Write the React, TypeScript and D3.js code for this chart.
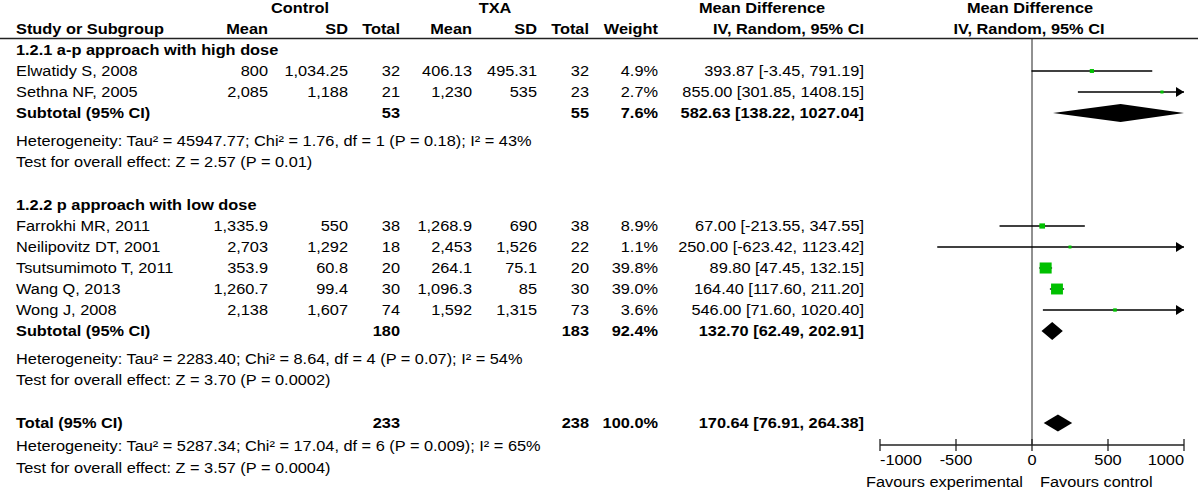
import React from 'react';
import * as d3 from 'd3';

// study level data
const studyNames = [
  'Elwatidy S, 2008',
  'Sethna NF, 2005',
  'Farrokhi MR, 2011',
  'Neilipovitz DT, 2001',
  'Tsutsumimoto T, 2011',
  'Wang Q, 2013',
  'Wong J, 2008',
];
const controlMean = ['800', '2,085', '1,335.9', '2,703', '353.9', '1,260.7', '2,138'];
const controlSD = ['1,034.25', '1,188', '550', '1,292', '60.8', '99.4', '1,607'];
const controlTotal = [32, 21, 38, 18, 20, 30, 74];
const txaMean = ['406.13', '1,230', '1,268.9', '2,453', '264.1', '1,096.3', '1,592'];
const txaSD = ['495.31', '535', '690', '1,526', '75.1', '85', '1,315'];
const txaTotal = [32, 23, 38, 22, 20, 30, 73];
const weights = [4.9, 2.7, 8.9, 1.1, 39.8, 39.0, 3.6];
const md = [393.87, 855.0, 67.0, 250.0, 89.8, 164.4, 546.0];
const ciLow = [-3.45, 301.85, -213.55, -623.42, 47.45, 117.6, 71.6];
const ciHigh = [791.19, 1408.15, 347.55, 1123.42, 132.15, 211.2, 1020.4];

// subgroups
const groupTitles = ['1.2.1 a-p approach with high dose', '1.2.2 p approach with low dose'];
const groupStudies = [[0, 1], [2, 3, 4, 5, 6]];
const subControlN = [53, 180];
const subTxaN = [55, 183];
const subWeight = [7.6, 92.4];
const subMd = [582.63, 132.7];
const subLow = [138.22, 62.49];
const subHigh = [1027.04, 202.91];
const subHet = [
  'Heterogeneity: Tau\u00b2 = 45947.77; Chi\u00b2 = 1.76, df = 1 (P = 0.18); I\u00b2 = 43%',
  'Heterogeneity: Tau\u00b2 = 2283.40; Chi\u00b2 = 8.64, df = 4 (P = 0.07); I\u00b2 = 54%',
];
const subTest = ['Test for overall effect: Z = 2.57 (P = 0.01)', 'Test for overall effect: Z = 3.70 (P = 0.0002)'];

// overall
const totalControlN = 233;
const totalTxaN = 238;
const totalWeight = 100.0;
const totalMd = 170.64;
const totalLow = 76.91;
const totalHigh = 264.38;
const totalHet = 'Heterogeneity: Tau\u00b2 = 5287.34; Chi\u00b2 = 17.04, df = 6 (P = 0.009); I\u00b2 = 65%';
const totalTest = 'Test for overall effect: Z = 3.57 (P = 0.0004)';

const axisTicks = [-1000, -500, 0, 500, 1000];

const W = 1200;
const H = 491;
const SX = 1.09;
const GREEN = '#00c000';
const LINE = '#222';

const loc = d3.formatLocale({ decimal: '.', thousands: ',', grouping: [3], currency: ['', ''], minus: '-' });
const f2 = loc.format('.2f');
const f1 = loc.format('.1f');
const ciText = (m: number, l: number, h: number) => `${f2(m)} [${f2(l)}, ${f2(h)}]`;

function T({ x, y, anchor = 'start', bold = false, children }: any) {
  return (
    <text
      transform={`translate(${x},${y + 5}) scale(${SX},1)`}
      textAnchor={anchor}
      fontWeight={bold ? 'bold' : 'normal'}
    >
      {children}
    </text>
  );
}

const col = { name: 16, cMean: 268, cSD: 348, cN: 400, tMean: 472, tSD: 537, tN: 589, w: 658, ci: 864 };

export default function App() {
  const x = d3.scaleLinear().domain([-1000, 1000]).range([880, 1184]);
  const clampX = (v: number) => x(Math.max(-1000, Math.min(1000, v)));
  const sq = d3.scaleSqrt().domain([0, 39.8]).range([0, 12]);

  const rows: any[] = [];
  let y = 50;
  groupTitles.forEach((title, g) => {
    rows.push({ kind: 'title', y, text: title });
    y += 21;
    groupStudies[g].forEach((i) => {
      rows.push({ kind: 'study', y, i });
      y += 21;
    });
    rows.push({ kind: 'sub', y, g });
    y += 28;
    rows.push({ kind: 'note', y, text: subHet[g] });
    y += 21;
    rows.push({ kind: 'note', y, text: subTest[g] });
    y += 43;
  });
  rows.push({ kind: 'total', y });
  y += 23;
  rows.push({ kind: 'note', y, text: totalHet });
  y += 22;
  rows.push({ kind: 'note', y, text: totalTest });

  const axisY = 445;

  const diamond = (m: number, l: number, h: number, cy: number, hh: number) => {
    const pts = [
      [clampX(l), cy],
      [x(m), cy - hh],
      [clampX(h), cy],
      [x(m), cy + hh],
    ];
    return <polygon points={pts.map((p) => p.join(',')).join(' ')} fill="#000" />;
  };

  const whisker = (i: number, cy: number) => {
    const x1 = clampX(ciLow[i]);
    const x2 = clampX(ciHigh[i]);
    const s = Math.max(3, sq(weights[i]));
    const hs = Math.max(3, sq(weights[i]) * 0.92);
    return (
      <g key={'w' + i}>
        <line x1={x1} x2={x2} y1={cy} y2={cy} stroke="#000" strokeWidth={1.3} />
        {ciHigh[i] > 1000 && (
          <polygon points={`${x(1000) - 8},${cy - 5} ${x(1000)},${cy} ${x(1000) - 8},${cy + 5}`} fill="#000" />
        )}
        {ciLow[i] < -1000 && (
          <polygon points={`${x(-1000) + 8},${cy - 5} ${x(-1000)},${cy} ${x(-1000) + 8},${cy + 5}`} fill="#000" />
        )}
        <rect x={x(md[i]) - s / 2} y={cy - hs / 2} width={s} height={hs} fill={GREEN} />
      </g>
    );
  };

  return (
    <svg
      width={W}
      height={H}
      style={{ position: 'absolute', left: 0, top: 0, background: '#fff' }}
      fontFamily="Arial, 'Liberation Sans', sans-serif"
      fontSize={15}
      fill="#000"
    >
      <rect width={W} height={H} fill="#fff" />
      {/* header */}
      <T x={300} y={8} anchor="middle" bold>Control</T>
      <T x={495} y={8} anchor="middle" bold>TXA</T>
      <T x={762} y={8} anchor="middle" bold>Mean Difference</T>
      <T x={1030} y={8} anchor="middle" bold>Mean Difference</T>
      <T x={col.name} y={29} bold>Study or Subgroup</T>
      <T x={col.cMean} y={29} anchor="end" bold>Mean</T>
      <T x={col.cSD} y={29} anchor="end" bold>SD</T>
      <T x={col.cN} y={29} anchor="end" bold>Total</T>
      <T x={col.tMean} y={29} anchor="end" bold>Mean</T>
      <T x={col.tSD} y={29} anchor="end" bold>SD</T>
      <T x={col.tN} y={29} anchor="end" bold>Total</T>
      <T x={col.w} y={29} anchor="end" bold>Weight</T>
      <T x={col.ci} y={29} anchor="end" bold>IV, Random, 95% CI</T>
      <T x={1029} y={29} anchor="middle" bold>IV, Random, 95% CI</T>
      <line x1={0} x2={1198} y1={38.5} y2={38.5} stroke={LINE} strokeWidth={1.6} />

      {/* zero line */}
      <line x1={x(0)} x2={x(0)} y1={38} y2={axisY} stroke={LINE} strokeWidth={1} />

      {rows.map((r, k) => {
        if (r.kind === 'title') return <T key={k} x={col.name} y={r.y} bold>{r.text}</T>;
        if (r.kind === 'note') return <T key={k} x={col.name} y={r.y}>{r.text}</T>;
        if (r.kind === 'study') {
          const i = r.i;
          return (
            <g key={k}>
              <T x={col.name} y={r.y}>{studyNames[i]}</T>
              <T x={col.cMean} y={r.y} anchor="end">{controlMean[i]}</T>
              <T x={col.cSD} y={r.y} anchor="end">{controlSD[i]}</T>
              <T x={col.cN} y={r.y} anchor="end">{controlTotal[i]}</T>
              <T x={col.tMean} y={r.y} anchor="end">{txaMean[i]}</T>
              <T x={col.tSD} y={r.y} anchor="end">{txaSD[i]}</T>
              <T x={col.tN} y={r.y} anchor="end">{txaTotal[i]}</T>
              <T x={col.w} y={r.y} anchor="end">{f1(weights[i])}%</T>
              <T x={col.ci} y={r.y} anchor="end">{ciText(md[i], ciLow[i], ciHigh[i])}</T>
              {whisker(i, r.y)}
            </g>
          );
        }
        if (r.kind === 'sub') {
          const g = r.g;
          return (
            <g key={k}>
              <T x={col.name} y={r.y} bold>Subtotal (95% CI)</T>
              <T x={col.cN} y={r.y} anchor="end" bold>{subControlN[g]}</T>
              <T x={col.tN} y={r.y} anchor="end" bold>{subTxaN[g]}</T>
              <T x={col.w} y={r.y} anchor="end" bold>{f1(subWeight[g])}%</T>
              <T x={col.ci} y={r.y} anchor="end" bold>{ciText(subMd[g], subLow[g], subHigh[g])}</T>
              {diamond(subMd[g], subLow[g], subHigh[g], r.y, 9)}
            </g>
          );
        }
        return (
          <g key={k}>
            <T x={col.name} y={r.y} bold>Total (95% CI)</T>
            <T x={col.cN} y={r.y} anchor="end" bold>{totalControlN}</T>
            <T x={col.tN} y={r.y} anchor="end" bold>{totalTxaN}</T>
            <T x={col.w} y={r.y} anchor="end" bold>{f1(totalWeight)}%</T>
            <T x={col.ci} y={r.y} anchor="end" bold>{ciText(totalMd, totalLow, totalHigh)}</T>
            {diamond(totalMd, totalLow, totalHigh, r.y, 8.5)}
          </g>
        );
      })}

      {/* axis */}
      <line x1={x(-1000)} x2={x(1000)} y1={axisY} y2={axisY} stroke={LINE} strokeWidth={1.3} />
      {axisTicks.map((t, k) => (
        <g key={t}>
          <line x1={x(t)} x2={x(t)} y1={axisY - 6} y2={axisY + 6} stroke={LINE} strokeWidth={1.3} />
          <T
            x={x(t)}
            y={axisY + 15}
            anchor={k === 0 ? 'start' : k === axisTicks.length - 1 ? 'end' : 'middle'}
          >
            {t}
          </T>
        </g>
      ))}
      <T x={x(0) - 9} y={axisY + 37} anchor="end">Favours experimental</T>
      <T x={x(0) + 8} y={axisY + 37}>Favours control</T>
    </svg>
  );
}
